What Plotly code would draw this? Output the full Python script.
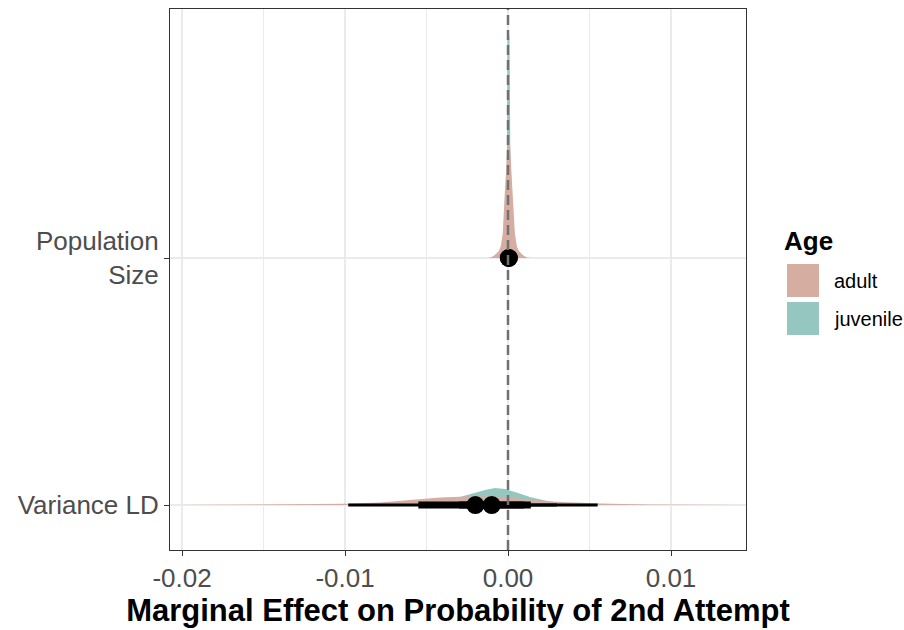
import plotly.graph_objects as go

# ---- data -----------------------------------------------------------------
categories = ["Variance LD", "Population Size"]
category_labels = ["Variance LD", "Population<br>Size"]
category_pos = [1, 2]
ages = ["adult", "juvenile"]
age_colors = ["#D5ADA1", "#95C7C0"]

# posterior density slabs (x = marginal effect, h = slab height in category units)
adult_vld_x = [-0.02043, -0.01583, -0.01276, -0.00988, -0.00785, -0.00558, -0.00417,
               -0.00252, -0.00110, 0.00012, 0.00135, 0.00319, 0.00564, 0.00871,
               0.01178, 0.01423]
adult_vld_h = [0.0, 0.0012, 0.0024, 0.0049, 0.0101, 0.0243, 0.0304, 0.0344, 0.0344,
               0.0304, 0.0202, 0.0121, 0.0061, 0.0024, 0.0008, 0.0]

juv_vld_x = [-0.00479, -0.00387, -0.00294, -0.00202, -0.00141, -0.00080, -0.00018,
             0.00043, 0.00135, 0.00227, 0.00319, 0.00442, 0.00564]
juv_vld_h = [0.0, 0.0081, 0.0324, 0.0506, 0.0607, 0.0688, 0.0648, 0.0526, 0.0324,
             0.0182, 0.0081, 0.0020, 0.0]

adult_pop_x = [-0.00130, -0.00105, -0.00081, -0.00056, -0.00044, -0.00032, -0.00023,
               -0.00013, -0.00004, 0.00005, 0.00014, 0.00023, 0.00033, 0.00042,
               0.00054, 0.00066, 0.00091, 0.00115, 0.00140]
adult_pop_h = [0.0, 0.002, 0.012, 0.028, 0.049, 0.101, 0.223, 0.324, 0.445, 0.478,
               0.445, 0.324, 0.223, 0.101, 0.049, 0.028, 0.012, 0.002, 0.0]

juv_pop_x = [-0.00035, -0.00012, -0.00006, -0.00003, 0.00009, 0.00012, 0.00018, 0.00040]
juv_pop_h = [0.0, 0.10, 0.50, 0.90, 0.90, 0.50, 0.10, 0.0]

# point summaries: median with 66% and 95% intervals
adult_median = [-0.0020, 0.00005]
adult_lo66 = [-0.0055, -0.00010]
adult_hi66 = [0.0014, 0.00020]
adult_lo95 = [-0.0098, -0.00030]
adult_hi95 = [0.0055, 0.00040]

juv_median = [-0.0010, 0.00005]
juv_lo66 = [-0.0030, -0.00005]
juv_hi66 = [0.0010, 0.00010]
juv_lo95 = [-0.0050, -0.00015]
juv_hi95 = [0.0030, 0.00020]

x_ticks = [-0.02, -0.01, 0.00, 0.01]
x_tick_labels = ["-0.02", "-0.01", "0.00", "0.01"]

# ---- figure ---------------------------------------------------------------
W, H = 904, 630
ML, MR, MT, MB = 170, 158, 9, 80
FONT = "Liberation Sans, Arial, Helvetica, sans-serif"

fig = go.Figure()


def add_slab(xs, hs, base, color):
    px = list(xs) + list(xs[::-1])
    py = [base + h for h in hs] + [base] * len(xs)
    fig.add_trace(go.Scatter(x=px, y=py, mode="lines", fill="toself",
                             fillcolor=color, line=dict(width=0, color=color),
                             hoverinfo="skip", showlegend=False))


# juvenile slabs underneath, adult slabs on top
add_slab(juv_vld_x, juv_vld_h, category_pos[0], age_colors[1])
add_slab(juv_pop_x, juv_pop_h, category_pos[1], age_colors[1])
add_slab(adult_vld_x, adult_vld_h, category_pos[0], age_colors[0])
add_slab(adult_pop_x, adult_pop_h, category_pos[1], age_colors[0])

for med, lo66, hi66, lo95, hi95 in [
    (juv_median, juv_lo66, juv_hi66, juv_lo95, juv_hi95),
    (adult_median, adult_lo66, adult_hi66, adult_lo95, adult_hi95),
]:
    for i, yc in enumerate(category_pos):
        fig.add_trace(go.Scatter(x=[lo95[i], hi95[i]], y=[yc, yc], mode="lines",
                                 line=dict(color="black", width=3),
                                 hoverinfo="skip", showlegend=False))
        fig.add_trace(go.Scatter(x=[lo66[i], hi66[i]], y=[yc, yc], mode="lines",
                                 line=dict(color="black", width=7),
                                 hoverinfo="skip", showlegend=False))
    fig.add_trace(go.Scatter(x=med, y=category_pos, mode="markers",
                             marker=dict(color="black", size=18, line=dict(width=0)),
                             hoverinfo="skip", showlegend=False))

# reference line at zero
fig.add_shape(type="line", x0=0, x1=0, y0=0, y1=1, xref="x", yref="paper",
              line=dict(color="#717171", width=2.5, dash="10px,5px"), layer="above")


# ---- manual legend ----------------------------------------------------------
def paper_x(p):
    return (p - ML) / (W - ML - MR)


def paper_y(p):
    return (H - MB - p) / (H - MT - MB)


fig.add_annotation(x=paper_x(782), y=paper_y(241), xref="paper", yref="paper",
                   text="<b>Age</b>", showarrow=False, xanchor="left", yanchor="middle",
                   font=dict(family=FONT, size=26, color="black"))
key_tops = [264, 302]
for name, color, top in zip(ages, age_colors, key_tops):
    fig.add_shape(type="rect", xref="paper", yref="paper",
                  x0=paper_x(787), x1=paper_x(819), y0=paper_y(top), y1=paper_y(top + 33),
                  fillcolor=color, line=dict(width=0))
    fig.add_annotation(x=paper_x(832), y=paper_y(top + 16.5), xref="paper", yref="paper",
                       text=name, showarrow=False, xanchor="left", yanchor="middle",
                       font=dict(family=FONT, size=20, color="black"))

fig.update_layout(
    width=W, height=H,
    margin=dict(l=ML, r=MR, t=MT, b=MB, pad=0),
    paper_bgcolor="white", plot_bgcolor="white",
    showlegend=False,
    font=dict(family=FONT, color="#4D4D4D"),
    xaxis=dict(
        range=[-0.020736, 0.014601],
        tickvals=x_ticks, ticktext=x_tick_labels,
        tickfont=dict(family=FONT, size=26, color="#4D4D4D"),
        ticks="outside", ticklen=5, tickwidth=1, tickcolor="#333333",
        showgrid=True, gridcolor="#EBEBEB", gridwidth=2,
        minor=dict(dtick=0.005, tick0=0, showgrid=True, gridcolor="#EBEBEB", gridwidth=1,
                   ticks=""),
        zeroline=False,
        showline=True, linecolor="#333333", linewidth=1, mirror=True,
        title=dict(text="<b>Marginal Effect on Probability of 2nd Attempt</b>",
                   font=dict(family=FONT, size=31, color="black"), standoff=6),
    ),
    yaxis=dict(
        range=[0.818, 3.008],
        tickvals=category_pos, ticktext=category_labels,
        tickfont=dict(family=FONT, size=26, color="#4D4D4D"),
        ticks="outside", ticklen=5, tickwidth=1, tickcolor="#333333",
        showgrid=True, gridcolor="#EBEBEB", gridwidth=2,
        zeroline=False,
        showline=True, linecolor="#333333", linewidth=1, mirror=True,
    ),
)

fig.write_html("out.html")
